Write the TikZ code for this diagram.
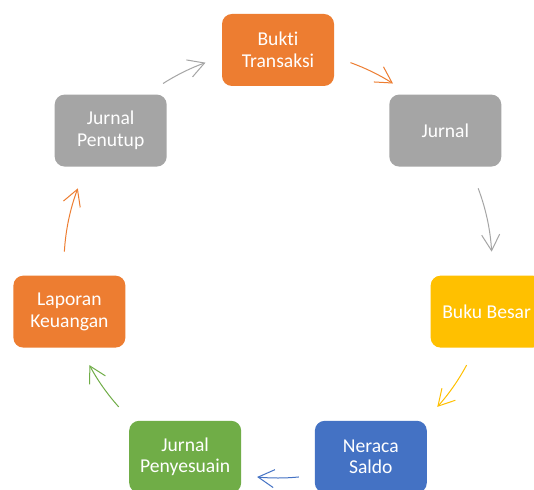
\documentclass[tikz,border=0pt]{standalone}
\usepackage{fontspec}
\setmainfont{Carlito}[Ligatures=NoCommon]
\usetikzlibrary{arrows.meta}
\definecolor{corange}{HTML}{ED7D31}
\definecolor{cgray}{HTML}{A5A5A5}
\definecolor{cyellow}{HTML}{FFC000}
\definecolor{cblue}{HTML}{4472C4}
\definecolor{cgreen}{HTML}{70AD47}
\begin{document}
\begin{tikzpicture}[x=1pt,y=1pt,
  box/.style={rectangle, rounded corners=10pt, minimum width=112pt, minimum height=72pt,
    text=white, font=\fontsize{19.6}{21.7}\selectfont, align=center, inner sep=0pt},
  cyc/.style={line width=1pt, -{Straight Barb[length=16pt,width=18pt]}},
]
\useasboundingbox (0,0) rectangle (534,489);
\clip (0,0) rectangle (534,489);
\fill[white] (0,0) rectangle (534,489);
\coordinate (c) at (278,225);
\node[box, fill=corange] (bukti) at ([shift={(90:214)}]c) {Bukti\\Transaksi};
\node[box, fill=cgray] (jurnal) at ([shift={(38.57:214)}]c) {Jurnal};
\node[box, fill=cyellow] (buku) at ([shift={(-12.86:214)}]c) {Buku Besar};
\node[box, fill=cblue] (neraca) at ([shift={(-64.29:214)}]c) {Neraca\\Saldo};
\node[box, fill=cgreen] (penyesuain) at ([shift={(-115.71:214)}]c) {Jurnal\\Penyesuain};
\node[box, fill=corange] (laporan) at ([shift={(-167.14:214)}]c) {Laporan\\Keuangan};
\node[box, fill=cgray] (penutup) at ([shift={(141.43:214)}]c) {Jurnal\\Penutup};
\draw[cyc, corange] ([shift={(70.2:214)}]c) arc[start angle=70.2, end angle=57.5, radius=214];
\draw[cyc, cgray] ([shift={(20.7:214)}]c) arc[start angle=20.7, end angle=3.3, radius=214];
\draw[cyc, cyellow] ([shift={(-28.2:214)}]c) arc[start angle=-28.2, end angle=-41.9, radius=214];
\draw[cyc, cblue] ([shift={(-84.4:214)}]c) arc[start angle=-84.4, end angle=-95.6, radius=214];
\draw[cyc, cgreen] ([shift={(-138.1:214)}]c) arc[start angle=-138.1, end angle=-151.8, radius=214];
\draw[cyc, corange] ([shift={(176.7:214)}]c) arc[start angle=176.7, end angle=159.3, radius=214];
\draw[cyc, cgray] ([shift={(122.5:214)}]c) arc[start angle=122.5, end angle=109.8, radius=214];
\end{tikzpicture}
\end{document}
